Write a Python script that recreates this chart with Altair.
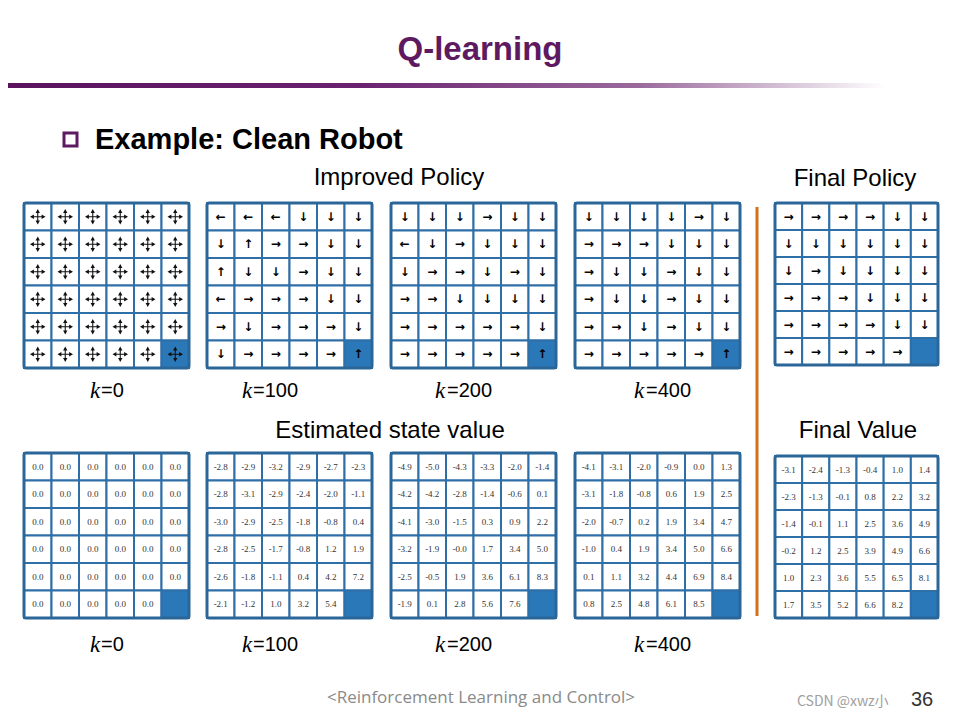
import altair as alt
import pandas as pd

# ---------------- data ----------------
panel_names = ["p0", "p100", "p200", "p400", "pfinal", "v0", "v100", "v200", "v400", "vfinal"]

policy_k0 = ["AAAAAA", "AAAAAA", "AAAAAA", "AAAAAA", "AAAAAA", "AAAAAA"]
policy_k100 = ["LLLDDD", "DURRDD", "UDDRDD", "LRRRDD", "RDRRRD", "DRRRRU"]
policy_k200 = ["DDDRDD", "LDRDDD", "DRRDRD", "RRDDDD", "RRRRRD", "RRRRRU"]
policy_k400 = ["DDDDRD", "RRRDDD", "RDDRDD", "RDDRDD", "RRDRDD", "RRRRRU"]
policy_final = ["RRRRDD", "DDDDDD", "DRDDDD", "RRRDDD", "RRRRDD", "RRRRR."]

value_k0 = [["0.0"] * 6 for _ in range(5)] + [["0.0"] * 5 + [""]]
value_k100 = [
    ["-2.8", "-2.9", "-3.2", "-2.9", "-2.7", "-2.3"],
    ["-2.8", "-3.1", "-2.9", "-2.4", "-2.0", "-1.1"],
    ["-3.0", "-2.9", "-2.5", "-1.8", "-0.8", "0.4"],
    ["-2.8", "-2.5", "-1.7", "-0.8", "1.2", "1.9"],
    ["-2.6", "-1.8", "-1.1", "0.4", "4.2", "7.2"],
    ["-2.1", "-1.2", "1.0", "3.2", "5.4", ""],
]
value_k200 = [
    ["-4.9", "-5.0", "-4.3", "-3.3", "-2.0", "-1.4"],
    ["-4.2", "-4.2", "-2.8", "-1.4", "-0.6", "0.1"],
    ["-4.1", "-3.0", "-1.5", "0.3", "0.9", "2.2"],
    ["-3.2", "-1.9", "-0.0", "1.7", "3.4", "5.0"],
    ["-2.5", "-0.5", "1.9", "3.6", "6.1", "8.3"],
    ["-1.9", "0.1", "2.8", "5.6", "7.6", ""],
]
value_k400 = [
    ["-4.1", "-3.1", "-2.0", "-0.9", "0.0", "1.3"],
    ["-3.1", "-1.8", "-0.8", "0.6", "1.9", "2.5"],
    ["-2.0", "-0.7", "0.2", "1.9", "3.4", "4.7"],
    ["-1.0", "0.4", "1.9", "3.4", "5.0", "6.6"],
    ["0.1", "1.1", "3.2", "4.4", "6.9", "8.4"],
    ["0.8", "2.5", "4.8", "6.1", "8.5", ""],
]
value_final = [
    ["-3.1", "-2.4", "-1.3", "-0.4", "1.0", "1.4"],
    ["-2.3", "-1.3", "-0.1", "0.8", "2.2", "3.2"],
    ["-1.4", "-0.1", "1.1", "2.5", "3.6", "4.9"],
    ["-0.2", "1.2", "2.5", "3.9", "4.9", "6.6"],
    ["1.0", "2.3", "3.6", "5.5", "6.5", "8.1"],
    ["1.7", "3.5", "5.2", "6.6", "8.2", ""],
]

k_labels = ["=0", "=100", "=200", "=400"]

# ---------------- layout (positions, not data) ----------------
layout = {
    "p0": (24, 203, 165, 165), "p100": (207, 203, 165, 165), "p200": (391, 203, 165, 165),
    "p400": (575, 203, 165, 165), "pfinal": (775, 203, 163, 162),
    "v0": (24, 453, 165, 165), "v100": (207, 453, 165, 165), "v200": (391, 453, 165, 165),
    "v400": (575, 453, 165, 165), "vfinal": (775, 456, 163, 162),
}
N = 6
arrow_glyph = {"L": "←", "R": "→", "U": "↑", "D": "↓"}
CROSS = ("M0,-1L0.28,-0.5L0.07,-0.5L0.07,-0.07L0.5,-0.07L0.5,-0.28L1,0L0.5,0.28L0.5,0.07L0.07,0.07"
         "L0.07,0.5L0.28,0.5L0,1L-0.28,0.5L-0.07,0.5L-0.07,0.07L-0.5,0.07L-0.5,0.28L-1,0L-0.5,-0.28"
         "L-0.5,-0.07L-0.07,-0.07L-0.07,-0.5L-0.28,-0.5Z")

policies = dict(zip(panel_names[:5], [policy_k0, policy_k100, policy_k200, policy_k400, policy_final]))
values = dict(zip(panel_names[5:], [value_k0, value_k100, value_k200, value_k400, value_final]))

cells, frames, glyphs, crosses, nums = [], [], [], [], []
for name in panel_names:
    x0, y0, w, h = layout[name]
    cw, ch = w / N, h / N
    frames.append({"x0": x0, "x1": x0 + w, "y0": y0, "y1": y0 + h})
    for r in range(N):
        for c in range(N):
            cx0, cy0 = x0 + c * cw, y0 + r * ch
            target = (r == N - 1 and c == N - 1)
            cells.append({"x0": cx0, "x1": cx0 + cw, "y0": cy0, "y1": cy0 + ch,
                          "fill": "target" if target else "free"})
            cx, cy = cx0 + cw / 2, cy0 + ch / 2
            if name in policies:
                a = policies[name][r][c]
                if a == "A":
                    crosses.append({"cx": cx, "cy": cy})
                elif a in arrow_glyph:
                    glyphs.append({"cx": cx, "cy": cy, "g": arrow_glyph[a]})
            else:
                v = values[name][r][c]
                if v:
                    nums.append({"cx": cx, "cy": cy, "t": v})

cells_df = pd.DataFrame(cells)
frames_df = pd.DataFrame(frames)
glyph_df = pd.DataFrame(glyphs)
cross_df = pd.DataFrame(crosses)
num_df = pd.DataFrame(nums)

XS = alt.Scale(domain=[8, 952], nice=False, zero=False)
YS = alt.Scale(domain=[8, 712], nice=False, zero=False, reverse=True)
BLUE = "#2e6fa7"

cell_layer = alt.Chart(cells_df).mark_rect(stroke=BLUE, strokeWidth=2).encode(
    x=alt.X("x0:Q", scale=XS, axis=None), x2="x1:Q",
    y=alt.Y("y0:Q", scale=YS, axis=None), y2="y1:Q",
    fill=alt.Fill("fill:N", scale=alt.Scale(domain=["free", "target"], range=["#ffffff", "#2a78b8"]), legend=None),
)
frame_layer = alt.Chart(frames_df).mark_rect(filled=False, stroke="#2b6699", strokeWidth=3, cornerRadius=2).encode(
    x=alt.X("x0:Q", scale=XS, axis=None), x2="x1:Q",
    y=alt.Y("y0:Q", scale=YS, axis=None), y2="y1:Q",
)
glyph_layer = alt.Chart(glyph_df).mark_text(font="DejaVu Sans", fontWeight="bold", fontSize=12,
                                            color="#000000", baseline="middle").encode(
    x=alt.X("cx:Q", scale=XS, axis=None), y=alt.Y("cy:Q", scale=YS, axis=None), text="g:N",
)
cross_layer = alt.Chart(cross_df).mark_point(shape=CROSS, size=240, filled=True, color="#111111",
                                             opacity=1, strokeWidth=0).encode(
    x=alt.X("cx:Q", scale=XS, axis=None), y=alt.Y("cy:Q", scale=YS, axis=None),
)
num_layer = alt.Chart(num_df).mark_text(font="Liberation Serif", fontSize=9, color="#333333", baseline="middle").encode(
    x=alt.X("cx:Q", scale=XS, axis=None), y=alt.Y("cy:Q", scale=YS, axis=None), text="t:N",
)

one = alt.Data(values=[{"a": 1}])


def label(text, x, y, size, font="Liberation Sans", color="#000000", weight="normal", style="normal", align="center"):
    return alt.Chart(one).mark_text(text=text, font=font, fontSize=size, color=color, fontWeight=weight,
                                    fontStyle=style, align=align, baseline="middle").encode(
        x=alt.value(x - 8), y=alt.value(y - 8))


grad = alt.LinearGradient(gradient="linear", x1=0, x2=1, y1=0, y2=0, stops=[
    alt.GradientStop(color="#5c135e", offset=0),
    alt.GradientStop(color="#6a2270", offset=0.4),
    alt.GradientStop(color="#9a6a9c", offset=0.72),
    alt.GradientStop(color="#ffffff", offset=1),
])
header_line = alt.Chart(one).mark_rect(color=grad).encode(
    x=alt.value(0), x2=alt.value(877), y=alt.value(83 - 8), y2=alt.value(88 - 8))
bullet = alt.Chart(one).mark_rect(filled=False, stroke="#5e1a60", strokeWidth=3).encode(
    x=alt.value(64 - 8), x2=alt.value(77 - 8), y=alt.value(133 - 8), y2=alt.value(146 - 8))
orange = alt.Chart(one).mark_rule(color="#d2701f", strokeWidth=3).encode(
    x=alt.value(757 - 8), y=alt.value(207 - 8), y2=alt.value(616 - 8))

layers = [cell_layer, frame_layer, glyph_layer, cross_layer, num_layer, header_line, bullet, orange,
          label("Q-learning", 480, 50, 33, color="#5e1a60", weight="bold"),
          label("Example: Clean Robot", 95, 140, 29, weight="bold", align="left"),
          label("Improved Policy", 399, 178, 24),
          label("Final Policy", 855, 179, 24),
          label("Estimated state value", 390, 431, 24),
          label("Final Value", 858, 431, 24),
          label("<Reinforcement Learning and Control>", 481, 698, 17, font="Open Sans", color="#8a8a8a"),
          label("CSDN @xwz小", 797, 702, 14, font="Noto Sans CJK SC", color="#a0a0a0", align="left"),
          label("36", 922, 700, 20, color="#333333"),
          ]
k_x = [(90, 101), (242, 253), (435, 447), (634, 646)]
for yk in (391, 645):
    for (kx, ex), lab in zip(k_x, k_labels):
        layers.append(label("k", kx, yk, 23, font="Liberation Serif", style="italic", align="left"))
        layers.append(label(lab, ex, yk, 20, align="left"))

chart = alt.layer(*layers).properties(
    width=944, height=704, padding=0, autosize=alt.AutoSizeParams(type="none"), background="#ffffff"
).configure_view(stroke=None)

chart.save("out.html", embed_options={"renderer": "svg", "actions": False})
